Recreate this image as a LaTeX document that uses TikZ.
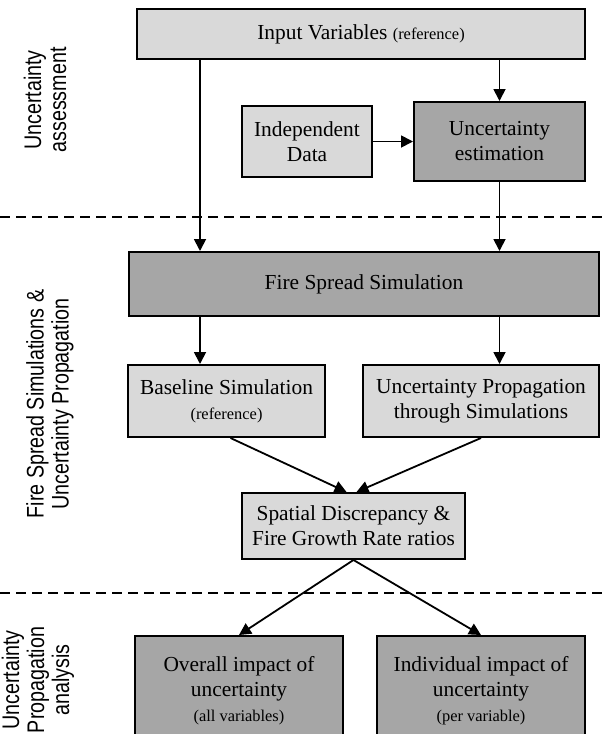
\documentclass[tikz,border=0pt]{standalone}
\usepackage{fontspec}
\setmainfont{Liberation Serif}
\newfontfamily\angosta[FakeStretch=0.82]{Liberation Sans}
\usepackage{tikz}
\usetikzlibrary{arrows.meta}

\definecolor{grisclaro}{RGB}{217,217,217}
\definecolor{grisoscuro}{RGB}{166,166,166}
\newcommand{\chico}[1]{{\fontsize{8.2}{10}\selectfont #1}}

\tikzset{
	caja/.style={draw, line width=1pt, align=center, inner sep=0pt,
		font=\fontsize{10.7}{12.5}\selectfont},
	cajaclara/.style={caja, fill=grisclaro},
	cajaoscura/.style={caja, fill=grisoscuro},
	flecha/.style={line width=0.9pt, -{Triangle[length=6pt,width=6pt]}},
	divisor/.style={line width=0.8pt, dash pattern=on 5pt off 3pt},
	etapa/.style={rotate=90, align=center, font=\angosta\fontsize{12}{12.5}\selectfont}
}

\begin{document}
\begin{tikzpicture}[x=0.5pt,y=-0.5pt] % esquema de incertidumbre
		\clip (0,0) rectangle (607,734);
		% Etapas (izquierda)
		\node[etapa] (etapa1) at (45,100) {Uncertainty\\assessment};
		\node[etapa] (etapa2) at (50,404) {Fire Spread Simulations \&\\Uncertainty Propagation};
		\node[etapa] (etapa3) at (38,680) {Uncertainty\\Propagation\\analysis};
		\draw[divisor] (0,217) -- (607,217);
		\draw[divisor] (0,593) -- (607,593);
		% Nivel evaluacion
		\node[cajaclara, minimum width=224pt, minimum height=25pt] (input) at (361,34) {Input Variables \chico{(reference)}};
		\node[cajaclara, minimum width=65pt, minimum height=35.5pt] (indep) at (307,141.5) {Independent\\Data};
		\node[cajaoscura, minimum width=85.5pt, minimum height=39.5pt] (uncest) at (499.5,141.5) {Uncertainty\\estimation};
		\coordinate (izq) at (200,0);
		% Nivel simulaciones
		\node[cajaoscura, minimum width=235pt, minimum height=32pt] (fire) at (364,284) {Fire Spread Simulation};
		\node[cajaclara, minimum width=98.5pt, minimum height=36pt] (base) at (226.5,401) {Baseline Simulation\\\chico{(reference)}};
		\node[cajaclara, minimum width=118pt, minimum height=36pt] (uprop) at (481,401) {Uncertainty Propagation\\through Simulations};
		\node[cajaclara, minimum width=111.5pt, minimum height=33pt] (spatial) at (353.5,526) {Spatial Discrepancy \&\\Fire Growth Rate ratios};
		% Nivel analisis
		\node[cajaoscura, minimum width=104pt, minimum height=55pt] (overall) at (239,691) {Overall impact of\\uncertainty\\\chico{(all variables)}};
		\node[cajaoscura, minimum width=104pt, minimum height=55pt] (indiv) at (481,691) {Individual impact of\\uncertainty\\\chico{(per variable)}};
		% Flechas
		\draw[flecha] (input.south -| izq) -- (fire.north -| izq);
		\draw[flecha] (input.south -| uncest) -- (uncest.north);
		\draw[flecha] (indep.east) -- (uncest.west);
		\draw[flecha] (uncest.south) -- (fire.north -| uncest);
		\draw[flecha] (fire.south -| izq) -- (base.north -| izq);
		\draw[flecha] (fire.south -| uncest) -- (uprop.north -| uncest);
		\draw[flecha] ([xshift=2pt]base.south) -- ([xshift=-3.5pt]spatial.north);
		\draw[flecha] (uprop.south) -- ([xshift=1.5pt]spatial.north);
		\draw[flecha] (spatial.south) -- (overall.north);
		\draw[flecha] (spatial.south) -- (indiv.north);
	\end{tikzpicture}
\end{document}
